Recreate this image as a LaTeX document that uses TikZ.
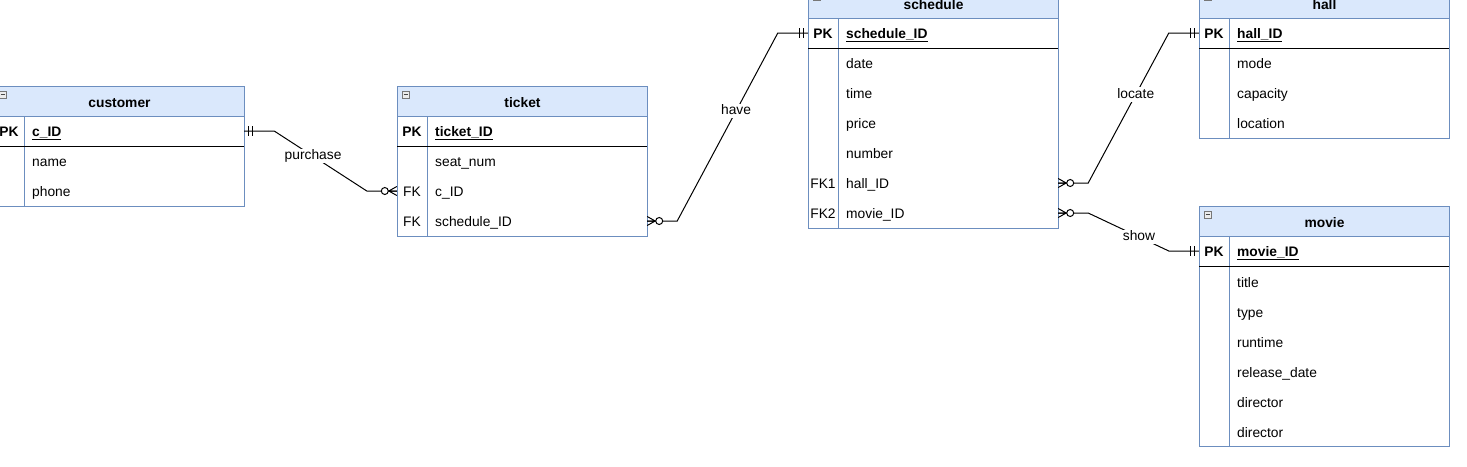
\documentclass[tikz,border=0pt]{standalone}
\usepackage{fontspec}
\setmainfont{Liberation Sans}
\usetikzlibrary{calc}
\definecolor{hdrfill}{HTML}{DAE8FC}
\definecolor{hdrdraw}{HTML}{6C8EBF}
\definecolor{ctlgray}{HTML}{777777}
\newcommand{\erfont}{\fontsize{13.8}{16}\selectfont}
\tikzset{
  hdr/.style={draw=hdrdraw, fill=hdrfill, line width=1pt, minimum width=250pt, minimum height=30pt, inner sep=0pt, font=\erfont\bfseries, text height=12pt, text depth=0pt},
  border/.style={draw=hdrdraw, line width=1pt},
  rowbox/.style={draw=none, minimum width=250pt, minimum height=30pt, inner sep=0pt},
  keyt/.style={inner sep=0pt, font=\erfont, text height=10.6pt, text depth=0pt},
  fldt/.style={inner sep=0pt, anchor=west, font=\erfont, text height=10.6pt, text depth=0pt},
  rel/.style={draw=black, line width=1pt},
  lbl/.style={fill=white, inner sep=1pt, font=\erfont, text height=9.6pt, text depth=2.5pt},
  pics/mandone/.style={code={\draw[line width=1pt] (4,-5)--(4,5) (8,-5)--(8,5);}},
  pics/zeromany/.style={code={\draw[line width=1pt] (0,-4.5)--(8,0)--(0,4.5) (0,0)--(8,0);
                                \draw[line width=1pt, fill=white] (12,0) circle (3.5pt);}},
}
% #1 id, #2 L, #3 T, #4 title, #5 pk text, #6 number of other rows
\newcommand{\erentity}[6]{%
  \pgfmathsetmacro{\erbot}{#3+60+30*#6}
  \draw[border, fill=white] (#2,#3+30) rectangle (#2+250,\erbot);
  \node[hdr, anchor=north west] (#1) at (#2,#3) {#4};
  \draw[draw=ctlgray, fill=gray!15, line width=0.8pt] (#2+5,#3+5) rectangle (#2+12,#3+12);
  \draw[ctlgray!60!black, line width=0.8pt] (#2+6.5,#3+8.5) -- (#2+10.5,#3+8.5);
  \draw[border] (#2+30,#3+30) -- (#2+30,\erbot);
  \node[rowbox] (#1-pk) at (#2+125,#3+45) {};
  \node[keyt, font=\erfont\bfseries] at (#2+15,#3+45) {PK};
  \node[fldt, font=\erfont\bfseries] at (#2+38,#3+45) {\underline{#5}};
  \draw[black, line width=1pt] (#2,#3+60) -- (#2+250,#3+60);
}
% #1 id, #2 L, #3 y centre, #4 key, #5 text
\newcommand{\errow}[5]{%
  \node[rowbox] (#1) at (#2+125,#3) {};
  \node[keyt] at (#2+15,#3) {#4};
  \node[fldt] at (#2+38,#3) {#5};
}
\begin{document}
\begin{tikzpicture}[x=1pt, y=-1pt]
\useasboundingbox (0,0) rectangle (1467,466);

% customer
\erentity{cust}{-6}{86}{customer}{c\_ID}{2}
\errow{cust-name}{-6}{161}{}{name}
\errow{cust-phone}{-6}{191}{}{phone}

% ticket
\erentity{tick}{397}{86}{ticket}{ticket\_ID}{3}
\errow{tick-seat}{397}{161}{}{seat\_num}
\errow{tick-cid}{397}{191}{FK}{c\_ID}
\errow{tick-sid}{397}{221}{FK}{schedule\_ID}

% schedule
\erentity{sched}{808}{-12}{schedule}{schedule\_ID}{6}
\errow{sched-date}{808}{63}{}{date}
\errow{sched-time}{808}{93}{}{time}
\errow{sched-price}{808}{123}{}{price}
\errow{sched-number}{808}{153}{}{number}
\errow{sched-hall}{808}{183}{FK1}{hall\_ID}
\errow{sched-movie}{808}{213}{FK2}{movie\_ID}

% hall
\erentity{hall}{1199}{-12}{hall}{hall\_ID}{3}
\errow{hall-mode}{1199}{63}{}{mode}
\errow{hall-cap}{1199}{93}{}{capacity}
\errow{hall-loc}{1199}{123}{}{location}

% movie
\erentity{movie}{1199}{206}{movie}{movie\_ID}{6}
\errow{movie-title}{1199}{282}{}{title}
\errow{movie-type}{1199}{312}{}{type}
\errow{movie-runtime}{1199}{342}{}{runtime}
\errow{movie-release}{1199}{372}{}{release\_date}
\errow{movie-dir1}{1199}{402}{}{director}
\errow{movie-dir2}{1199}{432}{}{director}

% relationships
\draw[rel] (cust-pk.east) -- ++(30,0) -- ($(tick-cid.west)+(-30,0)$) node[lbl, pos=0.42] {purchase} -- (tick-cid.west);
\pic at (cust-pk.east) {mandone};
\pic[xscale=-1] at (tick-cid.west) {zeromany};

\draw[rel] (tick-sid.east) -- ++(30,0) -- ($(sched-pk.west)+(-30,0)$) node[lbl, pos=0.585] {have} -- (sched-pk.west);
\pic at (tick-sid.east) {zeromany};
\pic[xscale=-1] at (sched-pk.west) {mandone};

\draw[rel] (sched-hall.east) -- ++(30,0) -- ($(hall-pk.west)+(-30,0)$) node[lbl, pos=0.59] {locate} -- (hall-pk.west);
\pic at (sched-hall.east) {zeromany};
\pic[xscale=-1] at (hall-pk.west) {mandone};

\draw[rel] (sched-movie.east) -- ++(30,0) -- ($(movie-pk.west)+(-30,0)$) node[lbl, pos=0.63] {show} -- (movie-pk.west);
\pic at (sched-movie.east) {zeromany};
\pic[xscale=-1] at (movie-pk.west) {mandone};
\end{tikzpicture}
\end{document}
